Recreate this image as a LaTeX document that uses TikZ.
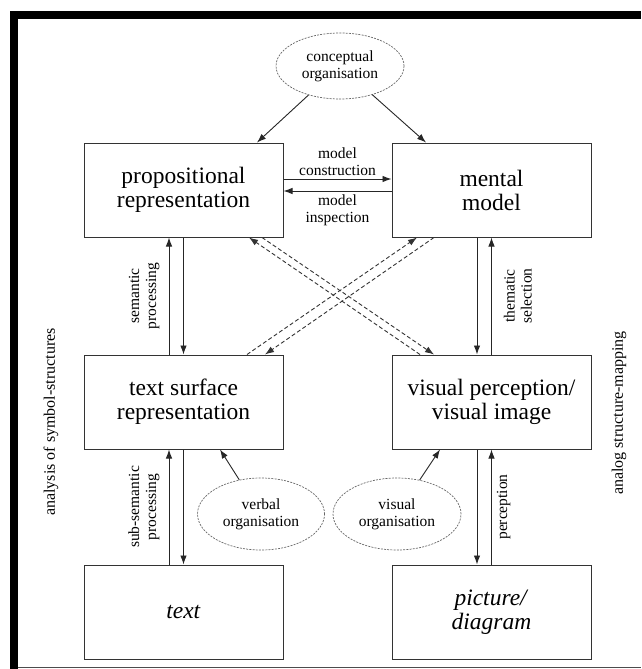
\documentclass[tikz,border=0pt]{standalone}
\usepackage{fontspec}
\setmainfont{Liberation Serif}
\usetikzlibrary{shapes.geometric, arrows.meta, positioning}
\tikzset{
    >={Latex[length=9pt,width=6.5pt]},
    % Shapes
    box/.style={rectangle, draw=black!80, line width=1pt,
                minimum width=199pt, minimum height=94pt, align=center,
                font=\fontsize{23.5}{24}\selectfont},
    orgEllipse/.style={ellipse, draw=black!60, dash pattern=on 2pt off 1.2pt, line width=0.7pt,
                minimum width=127pt, minimum height=72pt, align=center, inner sep=0pt,
                font=\fontsize{15.5}{17}\selectfont},
    % Flow & Labels
    flow/.style={->, line width=0.9pt, draw=black!85},
    crossflow/.style={->, line width=0.9pt, draw=black!80, dash pattern=on 4pt off 2.5pt},
    lbl/.style={font=\fontsize{15.5}{17}\selectfont, align=center, inner sep=2pt},
    side/.style={font=\fontsize{16}{18}\selectfont, rotate=90}
}
\begin{document}
\begin{tikzpicture}[x=1pt, y=-1pt, node distance=117pt and 108pt]
\useasboundingbox (0,0) rectangle (641,669);

% Frame
\fill[black] (10,11) rectangle (18,669);
\fill[black] (10,11) rectangle (641,19);
\draw[black!70, line width=1.2pt] (18,667.5) -- (641,667.5);

% Representations
\node[box] (prop) at (183.5,190) {propositional\\representation};
\node[box, right=of prop] (mental) {mental\\model};
\node[box, below=of prop] (tsr) {text surface\\representation};
\node[box, below=of mental] (visual) {visual perception/\\visual image};
\node[box, below=115pt of tsr] (text) {\textit{text}};
\node[box, below=115pt of visual] (picture) {\textit{picture/}\\\textit{diagram}};

% Organisation
\node[orgEllipse, minimum width=128pt, minimum height=66pt] (concept) at (340,66) {conceptual\\organisation};
\node[orgEllipse] (verbal) at (261,514) {verbal\\organisation};
\node[orgEllipse, minimum width=128pt] (visorg) at (397,514) {visual\\organisation};

\draw[flow] (concept) -- ([xshift=73.5pt]prop.north);
\draw[flow] (concept) -- ([xshift=-65.5pt]mental.north);
\draw[flow] (verbal) -- ([xshift=36.5pt]tsr.south);
\draw[flow] (visorg) -- ([xshift=-51.5pt]visual.south);

% Model construction / inspection
\draw[flow] ([yshift=11pt]prop.east) -- node[lbl, above=1pt] {model\\construction} ([yshift=11pt]mental.west);
\draw[flow] ([yshift=-1pt]mental.west) -- node[lbl, below=1pt] {model\\inspection} ([yshift=-1pt]prop.east);

% Verbal side
\draw[flow] ([xshift=-14.5pt]tsr.north) -- node[lbl, rotate=90, anchor=south, inner sep=9pt] {semantic\\processing} ([xshift=-14.5pt]prop.south);
\draw[flow] (prop.south) -- (tsr.north);
\draw[flow] ([xshift=-14.5pt]text.north) -- node[lbl, rotate=90, anchor=south, inner sep=9pt] {sub-semantic\\processing} ([xshift=-14.5pt]tsr.south);
\draw[flow] (tsr.south) -- (text.north);

% Pictorial side
\draw[flow] ([xshift=-14.5pt]mental.south) -- ([xshift=-14.5pt]visual.north);
\draw[flow] (visual.north) -- node[lbl, rotate=90, anchor=north, inner sep=12pt] {thematic\\selection} (mental.south);
\draw[flow] ([xshift=-14.5pt]visual.south) -- ([xshift=-14.5pt]picture.north);
\draw[flow] (picture.north) -- node[lbl, rotate=90, anchor=north, inner sep=5pt] {perception} (visual.south);

% Cross links
\draw[crossflow] ([xshift=-71.5pt]visual.north) -- ([xshift=65.5pt]prop.south);
\draw[crossflow] ([xshift=78.5pt]prop.south) -- ([xshift=-57.5pt]visual.north);
\draw[crossflow] ([xshift=63.5pt]tsr.north) -- ([xshift=-74.5pt]mental.south);
\draw[crossflow] ([xshift=-57.5pt]mental.south) -- ([xshift=81.5pt]tsr.north);

% Side labels
\node[side] (analysis) at (51,422) {analysis of symbol-structures};
\node[side] (analog) at (619,413) {analog structure-mapping};

\end{tikzpicture}
\end{document}
